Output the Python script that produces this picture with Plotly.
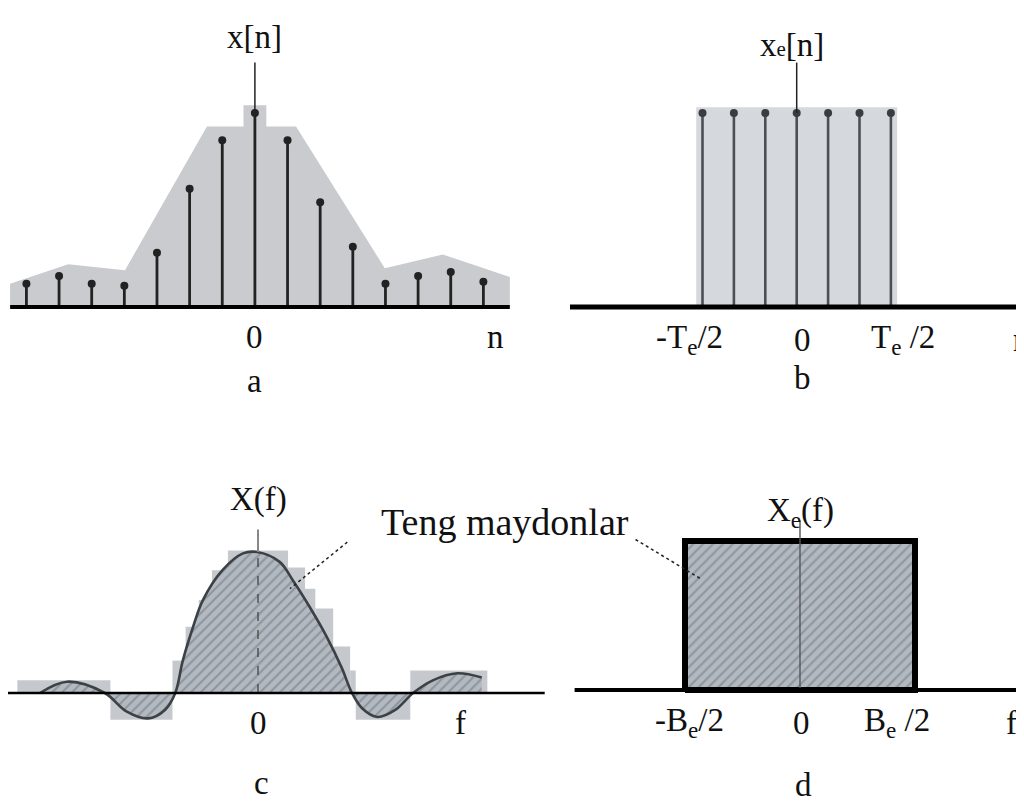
import plotly.graph_objects as go

W, H = 1024, 801
OFF = 8  # default page margin around the plot div

# ---------------- data ----------------
# (a) discrete signal x[n]
n_a = list(range(-7, 8))
x_a = [0.12, 0.16, 0.12, 0.11, 0.28, 0.61, 0.86, 1.00, 0.86, 0.54, 0.31, 0.12, 0.16, 0.18, 0.13]
env_n = [-7.5, -7.5, -5.72, -3.98, -1.47, -0.35, -0.35, 0.35, 0.35, 1.26, 3.98, 5.76, 7.81, 7.81]
env_v = [0, 0.12, 0.22, 0.19, 0.93, 0.93, 1.04, 1.04, 0.93, 0.93, 0.20, 0.27, 0.155, 0]

# (b) equivalent rectangular signal xe[n]
n_b = list(range(-3, 4))
x_b = [1.0, 1.0, 1.0, 1.0, 1.0, 1.0, 1.0]
Te_half = 3.2
rect_b_top = 1.03

# (c) spectrum X(f)
f_c = [-2.32, -2.03, -1.63, -1.40, -1.17, -0.99, -0.88, -0.80, -0.69, -0.585, -0.38, -0.16, -0.01,
       0.23, 0.37, 0.55, 0.73, 0.89, 1.00, 1.11, 1.27, 1.46, 1.65, 1.86, 2.12, 2.38]
X_c = [0.0, 0.08, 0.0, -0.13, -0.18, -0.12, 0.0, 0.23, 0.47, 0.66, 0.87, 0.99, 1.0,
       0.93, 0.80, 0.61, 0.40, 0.18, 0.0, -0.11, -0.17, -0.12, 0.0, 0.09, 0.14, 0.11]
step_edges = [-2.56, -1.57, -0.91, -0.77, -0.63, -0.49, -0.32, 0.32, 0.50, 0.61, 0.80, 0.98, 1.04, 1.62, 2.44]
step_vals = [0.09, -0.19, 0.23, 0.47, 0.66, 0.87, 1.01, 0.89, 0.74, 0.60, 0.33, 0.16, -0.19, 0.16]

# (d) equivalent rectangular spectrum Xe(f)
Be_half = 1.0
Xe_top = 1.0

FONT = "Liberation Serif"
INK = "#111111"
FW, FH = W - OFF, H - OFF

# ---------------- layout helpers ----------------
def frame(px0, px1, py0, py1, ox, sx, oy, sy):
    # pixel positions on the page -> axis domain/range inside the (offset) figure
    xa = dict(domain=[(px0 - OFF) / FW, min(1, (px1 - OFF) / FW)],
              range=[(px0 - ox) / sx, (min(px1, W) - ox) / sx], visible=False, fixedrange=True)
    ya = dict(domain=[max(0, 1 - (py1 - OFF) / FH), 1 - (py0 - OFF) / FH],
              range=[(oy - min(py1, H)) / sy, (oy - py0) / sy], visible=False, fixedrange=True)
    return xa, ya

ax_a = frame(8, 530, 8, 400, 254.9, 32.64, 307, 194)
ax_b = frame(530, 1024, 8, 400, 796.7, 31.4, 307, 194)
ax_c = frame(8, 560, 400, 801, 258, 94, 693, 141)
ax_d = frame(560, 1024, 400, 801, 800, 115, 690, 149)

fig = go.Figure()

def stems(xs, ys):
    sx, sy = [], []
    for a, b in zip(xs, ys):
        sx += [a, a, None]
        sy += [0, b, None]
    return sx, sy

# ---------- panel a ----------
fig.add_trace(go.Scatter(x=env_n, y=env_v, fill="toself", fillcolor="#c9cbce",
                         line=dict(width=0), mode="lines", xaxis="x", yaxis="y", hoverinfo="skip"))
sx, sy = stems(n_a, x_a)
fig.add_trace(go.Scatter(x=sx, y=sy, mode="lines", line=dict(color="#222222", width=2.8),
                         xaxis="x", yaxis="y", hoverinfo="skip"))
fig.add_trace(go.Scatter(x=n_a, y=x_a, mode="markers", marker=dict(color="#222222", size=8),
                         xaxis="x", yaxis="y"))
fig.add_trace(go.Scatter(x=[env_n[0], env_n[-1]], y=[0, 0], mode="lines", line=dict(color="#000", width=4),
                         xaxis="x", yaxis="y", hoverinfo="skip"))
fig.add_trace(go.Scatter(x=[0, 0], y=[1.26, x_a[7]], mode="lines", line=dict(color="#222", width=1.5),
                         xaxis="x", yaxis="y", hoverinfo="skip"))

# ---------- panel b ----------
fig.add_trace(go.Scatter(x=[-Te_half, -Te_half, Te_half, Te_half, -Te_half], y=[0, rect_b_top, rect_b_top, 0, 0],
                         fill="toself", fillcolor="#d5d9de", line=dict(width=0), mode="lines",
                         xaxis="x2", yaxis="y2", hoverinfo="skip"))
sx, sy = stems(n_b, x_b)
fig.add_trace(go.Scatter(x=sx, y=sy, mode="lines", line=dict(color="#4b4e53", width=2.6),
                         xaxis="x2", yaxis="y2", hoverinfo="skip"))
fig.add_trace(go.Scatter(x=n_b, y=x_b, mode="markers", marker=dict(color="#3a3c40", size=8),
                         xaxis="x2", yaxis="y2"))
fig.add_trace(go.Scatter(x=[-7.22, 7.3], y=[0, 0], mode="lines", line=dict(color="#000", width=5),
                         xaxis="x2", yaxis="y2", hoverinfo="skip"))
fig.add_trace(go.Scatter(x=[0, 0], y=[1.26, 1.0], mode="lines", line=dict(color="#222", width=1.5),
                         xaxis="x2", yaxis="y2", hoverinfo="skip"))

# ---------- panel c ----------
centers = [(a + b) / 2 for a, b in zip(step_edges[:-1], step_edges[1:])]
widths = [b - a for a, b in zip(step_edges[:-1], step_edges[1:])]
fig.add_trace(go.Bar(x=centers, y=step_vals, width=widths, marker=dict(color="#c5c9ce", line=dict(width=0)),
                     xaxis="x3", yaxis="y3", hoverinfo="skip"))
fig.add_trace(go.Scatter(x=f_c, y=X_c, mode="lines", line=dict(color="#3c4146", width=2.6, shape="spline", smoothing=1.0),
                         fill="tozeroy",
                         fillpattern=dict(shape="/", bgcolor="#b3b9c0", fgcolor="#6c7279", size=7, solidity=0.3),
                         xaxis="x3", yaxis="y3", hoverinfo="skip"))
fig.add_trace(go.Scatter(x=[0, 0], y=[0, 1.0], mode="lines", line=dict(color="#444", width=1.3, dash="dash"),
                         xaxis="x3", yaxis="y3", hoverinfo="skip"))
fig.add_trace(go.Scatter(x=[0, 0], y=[1.0, 1.16], mode="lines", line=dict(color="#888", width=2),
                         xaxis="x3", yaxis="y3", hoverinfo="skip"))
fig.add_trace(go.Scatter(x=[-2.66, 3.05], y=[0, 0], mode="lines", line=dict(color="#000", width=2.5),
                         xaxis="x3", yaxis="y3", hoverinfo="skip"))
fig.add_trace(go.Scatter(x=[0.95, 0.34], y=[1.07, 0.74], mode="lines", line=dict(color="#222", width=1.5, dash="dot"),
                         xaxis="x3", yaxis="y3", hoverinfo="skip"))

# ---------- panel d ----------
fig.add_trace(go.Scatter(x=[-Be_half, -Be_half, Be_half, Be_half, -Be_half], y=[0, Xe_top, Xe_top, 0, 0],
                         fill="toself",
                         fillpattern=dict(shape="/", bgcolor="#b3b9c0", fgcolor="#6c7279", size=7, solidity=0.3),
                         line=dict(color="#000", width=6), mode="lines",
                         xaxis="x4", yaxis="y4", hoverinfo="skip"))
fig.add_trace(go.Scatter(x=[0, 0], y=[0, 1.14], mode="lines", line=dict(color="#555", width=1.4),
                         xaxis="x4", yaxis="y4", hoverinfo="skip"))
fig.add_trace(go.Scatter(x=[-1.96, 1.96], y=[0, 0], mode="lines", line=dict(color="#000", width=4),
                         xaxis="x4", yaxis="y4", hoverinfo="skip"))
fig.add_trace(go.Scatter(x=[-1.43, -0.85], y=[1.01, 0.74], mode="lines", line=dict(color="#222", width=1.5, dash="dot"),
                         xaxis="x4", yaxis="y4", hoverinfo="skip"))

# ---------------- text ----------------
def txt(x, y, s, xr, yr, size=33):
    return dict(x=x, y=y, xref=xr, yref=yr, text=s, showarrow=False,
                font=dict(family=FONT, size=size, color=INK), xanchor="center", yanchor="middle")

ann = [
    txt(0, 1.39, "x[n]", "x", "y"),
    txt(0, -0.155, "0", "x", "y"),
    txt(7.36, -0.155, "n", "x", "y"),
    txt(0, -0.38, "a", "x", "y"),
    txt(-0.15, 1.35, "x<span style='font-size:21px'>e</span>[n]", "x2", "y2"),
    txt(-3.4, -0.17, "-T<sub>e</sub>/2", "x2", "y2"),
    txt(0.17, -0.17, "0", "x2", "y2"),
    txt(3.38, -0.17, "T<sub>e</sub> /2", "x2", "y2"),
    txt(7.15, -0.17, "n", "x2", "y2"),
    txt(0.17, -0.366, "b", "x2", "y2"),
    txt(0, 1.37, "X(f)", "x3", "y3"),
    txt(0, -0.21, "0", "x3", "y3"),
    txt(2.15, -0.21, "f", "x3", "y3"),
    txt(0.04, -0.64, "c", "x3", "y3"),
    txt(0, 1.19, "X<sub>e</sub>(f)", "x4", "y4"),
    txt(-0.96, -0.22, "-B<sub>e</sub>/2", "x4", "y4"),
    txt(0.01, -0.22, "0", "x4", "y4"),
    txt(0.84, -0.22, "B<sub>e</sub> /2", "x4", "y4"),
    txt(1.84, -0.22, "f", "x4", "y4"),
    txt(0.03, -0.64, "d", "x4", "y4"),
    txt((505 - OFF) / FW, 1 - (522 - OFF) / FH, "Teng maydonlar", "paper", "paper", size=38),
]

fig.update_layout(
    width=FW, height=FH, margin=dict(l=0, r=0, t=0, b=0),
    paper_bgcolor="white", plot_bgcolor="rgba(0,0,0,0)",
    showlegend=False, barmode="overlay",
    xaxis=ax_a[0], yaxis=dict(ax_a[1], anchor="x"),
    xaxis2=dict(ax_b[0], anchor="y2"), yaxis2=dict(ax_b[1], anchor="x2"),
    xaxis3=dict(ax_c[0], anchor="y3"), yaxis3=dict(ax_c[1], anchor="x3"),
    xaxis4=dict(ax_d[0], anchor="y4"), yaxis4=dict(ax_d[1], anchor="x4"),
    annotations=ann,
)
fig.update_xaxes(showgrid=False, zeroline=False)
fig.update_yaxes(showgrid=False, zeroline=False)

fig.write_html("out.html")
